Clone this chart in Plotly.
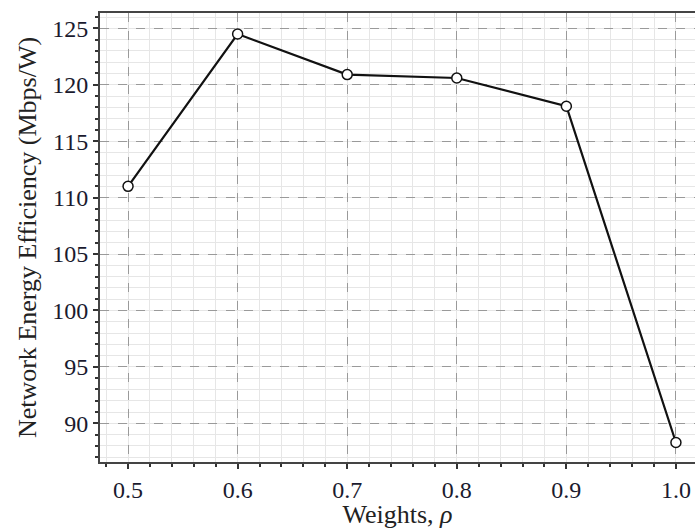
import plotly.graph_objects as go

weights = [0.5, 0.6, 0.7, 0.8, 0.9, 1.0]
efficiency = [111.0, 124.5, 120.9, 120.6, 118.1, 88.3]
x_ticks = [0.5, 0.6, 0.7, 0.8, 0.9, 1.0]
x_tick_labels = ["0.5", "0.6", "0.7", "0.8", "0.9", "1.0"]
y_ticks = [90, 95, 100, 105, 110, 115, 120, 125]

FONT = "Liberation Serif"

fig = go.Figure()
fig.add_trace(go.Scatter(
    x=weights, y=efficiency, mode="lines+markers",
    line=dict(color="#111111", width=2.2),
    marker=dict(symbol="circle", size=10, color="white",
                line=dict(color="#111111", width=1.5)),
    showlegend=False,
))

axis_common = dict(
    showline=True, linecolor="#444444", linewidth=2, mirror=True,
    ticks="outside", ticklen=5, tickwidth=1.5, tickcolor="#333333",
    showgrid=True, gridcolor="#9a9a9a", gridwidth=1, griddash="dash",
    zeroline=False, automargin=False,
    tickfont=dict(family=FONT, size=24, color="#1a1a2e"),
)

fig.update_xaxes(
    **axis_common,
    range=[0.4744, 1.0174],
    tickvals=x_ticks, ticktext=x_tick_labels,
    minor=dict(dtick=0.02, tick0=0.5, showgrid=True, gridcolor="#e6e6e6",
               griddash="solid", gridwidth=1, ticks="outside", ticklen=3,
               tickcolor="#333333"),
    title=dict(text="Weights, <i>ρ</i>", font=dict(family=FONT, size=26, color="#222222"),
               standoff=0),
)
fig.update_yaxes(
    **axis_common,
    range=[86.57, 126.36],
    tickvals=y_ticks,
    minor=dict(dtick=1, tick0=90, showgrid=True, gridcolor="#e6e6e6",
               griddash="solid", gridwidth=1, ticks="outside", ticklen=3,
               tickcolor="#333333"),
    title=dict(text="Network Energy Efficiency (Mbps/W)",
               font=dict(family=FONT, size=26, color="#222222"), standoff=8),
)

fig.update_layout(
    width=695, height=529,
    margin=dict(l=100, r=0, t=13, b=67),
    plot_bgcolor="white", paper_bgcolor="white",
)

fig.write_html(
    "out.html",
    config={"displayModeBar": False},
    post_script="document.body.style.margin='0';document.body.style.overflow='hidden';",
)
